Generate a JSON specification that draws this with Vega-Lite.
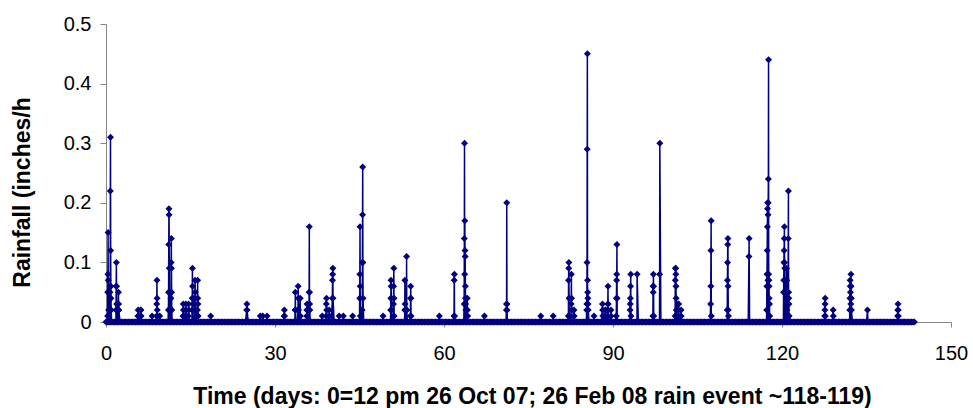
{
"$schema": "https://vega.github.io/schema/vega-lite/v6.json",
"width": 845, "height": 298,
"autosize": {"type": "none"},
"padding": {"left": 106, "top": 24, "right": 22, "bottom": 86},
"background": "white",
"config": {"view": {"stroke": null}, "font": "Liberation Sans"},
"data": {"values": [
{"day":0,"rain":0},{"day":0.25,"rain":0},{"day":0.5,"rain":0},{"day":0.75,"rain":0},
{"day":1,"rain":0},{"day":1.25,"rain":0},{"day":1.5,"rain":0},{"day":1.75,"rain":0},
{"day":2,"rain":0},{"day":2.25,"rain":0},{"day":2.5,"rain":0},{"day":2.75,"rain":0},
{"day":3,"rain":0},{"day":3.25,"rain":0},{"day":3.5,"rain":0},{"day":3.75,"rain":0},
{"day":4,"rain":0},{"day":4.25,"rain":0},{"day":4.5,"rain":0},{"day":4.75,"rain":0},
{"day":5,"rain":0},{"day":5.25,"rain":0},{"day":5.5,"rain":0},{"day":5.75,"rain":0},
{"day":6,"rain":0},{"day":6.25,"rain":0},{"day":6.5,"rain":0},{"day":6.75,"rain":0},
{"day":7,"rain":0},{"day":7.25,"rain":0},{"day":7.5,"rain":0},{"day":7.75,"rain":0},
{"day":8,"rain":0},{"day":8.25,"rain":0},{"day":8.5,"rain":0},{"day":8.75,"rain":0},
{"day":9,"rain":0},{"day":9.25,"rain":0},{"day":9.5,"rain":0},{"day":9.75,"rain":0},
{"day":10,"rain":0},{"day":10.25,"rain":0},{"day":10.5,"rain":0},{"day":10.75,"rain":0},
{"day":11,"rain":0},{"day":11.25,"rain":0},{"day":11.5,"rain":0},{"day":11.75,"rain":0},
{"day":12,"rain":0},{"day":12.25,"rain":0},{"day":12.5,"rain":0},{"day":12.75,"rain":0},
{"day":13,"rain":0},{"day":13.25,"rain":0},{"day":13.5,"rain":0},{"day":13.75,"rain":0},
{"day":14,"rain":0},{"day":14.25,"rain":0},{"day":14.5,"rain":0},{"day":14.75,"rain":0},
{"day":15,"rain":0},{"day":15.25,"rain":0},{"day":15.5,"rain":0},{"day":15.75,"rain":0},
{"day":16,"rain":0},{"day":16.25,"rain":0},{"day":16.5,"rain":0},{"day":16.75,"rain":0},
{"day":17,"rain":0},{"day":17.25,"rain":0},{"day":17.5,"rain":0},{"day":17.75,"rain":0},
{"day":18,"rain":0},{"day":18.25,"rain":0},{"day":18.5,"rain":0},{"day":18.75,"rain":0},
{"day":19,"rain":0},{"day":19.25,"rain":0},{"day":19.5,"rain":0},{"day":19.75,"rain":0},
{"day":20,"rain":0},{"day":20.25,"rain":0},{"day":20.5,"rain":0},{"day":20.75,"rain":0},
{"day":21,"rain":0},{"day":21.25,"rain":0},{"day":21.5,"rain":0},{"day":21.75,"rain":0},
{"day":22,"rain":0},{"day":22.25,"rain":0},{"day":22.5,"rain":0},{"day":22.75,"rain":0},
{"day":23,"rain":0},{"day":23.25,"rain":0},{"day":23.5,"rain":0},{"day":23.75,"rain":0},
{"day":24,"rain":0},{"day":24.25,"rain":0},{"day":24.5,"rain":0},{"day":24.75,"rain":0},
{"day":25,"rain":0},{"day":25.25,"rain":0},{"day":25.5,"rain":0},{"day":25.75,"rain":0},
{"day":26,"rain":0},{"day":26.25,"rain":0},{"day":26.5,"rain":0},{"day":26.75,"rain":0},
{"day":27,"rain":0},{"day":27.25,"rain":0},{"day":27.5,"rain":0},{"day":27.75,"rain":0},
{"day":28,"rain":0},{"day":28.25,"rain":0},{"day":28.5,"rain":0},{"day":28.75,"rain":0},
{"day":29,"rain":0},{"day":29.25,"rain":0},{"day":29.5,"rain":0},{"day":29.75,"rain":0},
{"day":30,"rain":0},{"day":30.25,"rain":0},{"day":30.5,"rain":0},{"day":30.75,"rain":0},
{"day":31,"rain":0},{"day":31.25,"rain":0},{"day":31.5,"rain":0},{"day":31.75,"rain":0},
{"day":32,"rain":0},{"day":32.25,"rain":0},{"day":32.5,"rain":0},{"day":32.75,"rain":0},
{"day":33,"rain":0},{"day":33.25,"rain":0},{"day":33.5,"rain":0},{"day":33.75,"rain":0},
{"day":34,"rain":0},{"day":34.25,"rain":0},{"day":34.5,"rain":0},{"day":34.75,"rain":0},
{"day":35,"rain":0},{"day":35.25,"rain":0},{"day":35.5,"rain":0},{"day":35.75,"rain":0},
{"day":36,"rain":0},{"day":36.25,"rain":0},{"day":36.5,"rain":0},{"day":36.75,"rain":0},
{"day":37,"rain":0},{"day":37.25,"rain":0},{"day":37.5,"rain":0},{"day":37.75,"rain":0},
{"day":38,"rain":0},{"day":38.25,"rain":0},{"day":38.5,"rain":0},{"day":38.75,"rain":0},
{"day":39,"rain":0},{"day":39.25,"rain":0},{"day":39.5,"rain":0},{"day":39.75,"rain":0},
{"day":40,"rain":0},{"day":40.25,"rain":0},{"day":40.5,"rain":0},{"day":40.75,"rain":0},
{"day":41,"rain":0},{"day":41.25,"rain":0},{"day":41.5,"rain":0},{"day":41.75,"rain":0},
{"day":42,"rain":0},{"day":42.25,"rain":0},{"day":42.5,"rain":0},{"day":42.75,"rain":0},
{"day":43,"rain":0},{"day":43.25,"rain":0},{"day":43.5,"rain":0},{"day":43.75,"rain":0},
{"day":44,"rain":0},{"day":44.25,"rain":0},{"day":44.5,"rain":0},{"day":44.75,"rain":0},
{"day":45,"rain":0},{"day":45.25,"rain":0},{"day":45.5,"rain":0},{"day":45.75,"rain":0},
{"day":46,"rain":0},{"day":46.25,"rain":0},{"day":46.5,"rain":0},{"day":46.75,"rain":0},
{"day":47,"rain":0},{"day":47.25,"rain":0},{"day":47.5,"rain":0},{"day":47.75,"rain":0},
{"day":48,"rain":0},{"day":48.25,"rain":0},{"day":48.5,"rain":0},{"day":48.75,"rain":0},
{"day":49,"rain":0},{"day":49.25,"rain":0},{"day":49.5,"rain":0},{"day":49.75,"rain":0},
{"day":50,"rain":0},{"day":50.25,"rain":0},{"day":50.5,"rain":0},{"day":50.75,"rain":0},
{"day":51,"rain":0},{"day":51.25,"rain":0},{"day":51.5,"rain":0},{"day":51.75,"rain":0},
{"day":52,"rain":0},{"day":52.25,"rain":0},{"day":52.5,"rain":0},{"day":52.75,"rain":0},
{"day":53,"rain":0},{"day":53.25,"rain":0},{"day":53.5,"rain":0},{"day":53.75,"rain":0},
{"day":54,"rain":0},{"day":54.25,"rain":0},{"day":54.5,"rain":0},{"day":54.75,"rain":0},
{"day":55,"rain":0},{"day":55.25,"rain":0},{"day":55.5,"rain":0},{"day":55.75,"rain":0},
{"day":56,"rain":0},{"day":56.25,"rain":0},{"day":56.5,"rain":0},{"day":56.75,"rain":0},
{"day":57,"rain":0},{"day":57.25,"rain":0},{"day":57.5,"rain":0},{"day":57.75,"rain":0},
{"day":58,"rain":0},{"day":58.25,"rain":0},{"day":58.5,"rain":0},{"day":58.75,"rain":0},
{"day":59,"rain":0},{"day":59.25,"rain":0},{"day":59.5,"rain":0},{"day":59.75,"rain":0},
{"day":60,"rain":0},{"day":60.25,"rain":0},{"day":60.5,"rain":0},{"day":60.75,"rain":0},
{"day":61,"rain":0},{"day":61.25,"rain":0},{"day":61.5,"rain":0},{"day":61.75,"rain":0},
{"day":62,"rain":0},{"day":62.25,"rain":0},{"day":62.5,"rain":0},{"day":62.75,"rain":0},
{"day":63,"rain":0},{"day":63.25,"rain":0},{"day":63.5,"rain":0},{"day":63.75,"rain":0},
{"day":64,"rain":0},{"day":64.25,"rain":0},{"day":64.5,"rain":0},{"day":64.75,"rain":0},
{"day":65,"rain":0},{"day":65.25,"rain":0},{"day":65.5,"rain":0},{"day":65.75,"rain":0},
{"day":66,"rain":0},{"day":66.25,"rain":0},{"day":66.5,"rain":0},{"day":66.75,"rain":0},
{"day":67,"rain":0},{"day":67.25,"rain":0},{"day":67.5,"rain":0},{"day":67.75,"rain":0},
{"day":68,"rain":0},{"day":68.25,"rain":0},{"day":68.5,"rain":0},{"day":68.75,"rain":0},
{"day":69,"rain":0},{"day":69.25,"rain":0},{"day":69.5,"rain":0},{"day":69.75,"rain":0},
{"day":70,"rain":0},{"day":70.25,"rain":0},{"day":70.5,"rain":0},{"day":70.75,"rain":0},
{"day":71,"rain":0},{"day":71.25,"rain":0},{"day":71.5,"rain":0},{"day":71.75,"rain":0},
{"day":72,"rain":0},{"day":72.25,"rain":0},{"day":72.5,"rain":0},{"day":72.75,"rain":0},
{"day":73,"rain":0},{"day":73.25,"rain":0},{"day":73.5,"rain":0},{"day":73.75,"rain":0},
{"day":74,"rain":0},{"day":74.25,"rain":0},{"day":74.5,"rain":0},{"day":74.75,"rain":0},
{"day":75,"rain":0},{"day":75.25,"rain":0},{"day":75.5,"rain":0},{"day":75.75,"rain":0},
{"day":76,"rain":0},{"day":76.25,"rain":0},{"day":76.5,"rain":0},{"day":76.75,"rain":0},
{"day":77,"rain":0},{"day":77.25,"rain":0},{"day":77.5,"rain":0},{"day":77.75,"rain":0},
{"day":78,"rain":0},{"day":78.25,"rain":0},{"day":78.5,"rain":0},{"day":78.75,"rain":0},
{"day":79,"rain":0},{"day":79.25,"rain":0},{"day":79.5,"rain":0},{"day":79.75,"rain":0},
{"day":80,"rain":0},{"day":80.25,"rain":0},{"day":80.5,"rain":0},{"day":80.75,"rain":0},
{"day":81,"rain":0},{"day":81.25,"rain":0},{"day":81.5,"rain":0},{"day":81.75,"rain":0},
{"day":82,"rain":0},{"day":82.25,"rain":0},{"day":82.5,"rain":0},{"day":82.75,"rain":0},
{"day":83,"rain":0},{"day":83.25,"rain":0},{"day":83.5,"rain":0},{"day":83.75,"rain":0},
{"day":84,"rain":0},{"day":84.25,"rain":0},{"day":84.5,"rain":0},{"day":84.75,"rain":0},
{"day":85,"rain":0},{"day":85.25,"rain":0},{"day":85.5,"rain":0},{"day":85.75,"rain":0},
{"day":86,"rain":0},{"day":86.25,"rain":0},{"day":86.5,"rain":0},{"day":86.75,"rain":0},
{"day":87,"rain":0},{"day":87.25,"rain":0},{"day":87.5,"rain":0},{"day":87.75,"rain":0},
{"day":88,"rain":0},{"day":88.25,"rain":0},{"day":88.5,"rain":0},{"day":88.75,"rain":0},
{"day":89,"rain":0},{"day":89.25,"rain":0},{"day":89.5,"rain":0},{"day":89.75,"rain":0},
{"day":90,"rain":0},{"day":90.25,"rain":0},{"day":90.5,"rain":0},{"day":90.75,"rain":0},
{"day":91,"rain":0},{"day":91.25,"rain":0},{"day":91.5,"rain":0},{"day":91.75,"rain":0},
{"day":92,"rain":0},{"day":92.25,"rain":0},{"day":92.5,"rain":0},{"day":92.75,"rain":0},
{"day":93,"rain":0},{"day":93.25,"rain":0},{"day":93.5,"rain":0},{"day":93.75,"rain":0},
{"day":94,"rain":0},{"day":94.25,"rain":0},{"day":94.5,"rain":0},{"day":94.75,"rain":0},
{"day":95,"rain":0},{"day":95.25,"rain":0},{"day":95.5,"rain":0},{"day":95.75,"rain":0},
{"day":96,"rain":0},{"day":96.25,"rain":0},{"day":96.5,"rain":0},{"day":96.75,"rain":0},
{"day":97,"rain":0},{"day":97.25,"rain":0},{"day":97.5,"rain":0},{"day":97.75,"rain":0},
{"day":98,"rain":0},{"day":98.25,"rain":0},{"day":98.5,"rain":0},{"day":98.75,"rain":0},
{"day":99,"rain":0},{"day":99.25,"rain":0},{"day":99.5,"rain":0},{"day":99.75,"rain":0},
{"day":100,"rain":0},{"day":100.25,"rain":0},{"day":100.5,"rain":0},{"day":100.75,"rain":0},
{"day":101,"rain":0},{"day":101.25,"rain":0},{"day":101.5,"rain":0},{"day":101.75,"rain":0},
{"day":102,"rain":0},{"day":102.25,"rain":0},{"day":102.5,"rain":0},{"day":102.75,"rain":0},
{"day":103,"rain":0},{"day":103.25,"rain":0},{"day":103.5,"rain":0},{"day":103.75,"rain":0},
{"day":104,"rain":0},{"day":104.25,"rain":0},{"day":104.5,"rain":0},{"day":104.75,"rain":0},
{"day":105,"rain":0},{"day":105.25,"rain":0},{"day":105.5,"rain":0},{"day":105.75,"rain":0},
{"day":106,"rain":0},{"day":106.25,"rain":0},{"day":106.5,"rain":0},{"day":106.75,"rain":0},
{"day":107,"rain":0},{"day":107.25,"rain":0},{"day":107.5,"rain":0},{"day":107.75,"rain":0},
{"day":108,"rain":0},{"day":108.25,"rain":0},{"day":108.5,"rain":0},{"day":108.75,"rain":0},
{"day":109,"rain":0},{"day":109.25,"rain":0},{"day":109.5,"rain":0},{"day":109.75,"rain":0},
{"day":110,"rain":0},{"day":110.25,"rain":0},{"day":110.5,"rain":0},{"day":110.75,"rain":0},
{"day":111,"rain":0},{"day":111.25,"rain":0},{"day":111.5,"rain":0},{"day":111.75,"rain":0},
{"day":112,"rain":0},{"day":112.25,"rain":0},{"day":112.5,"rain":0},{"day":112.75,"rain":0},
{"day":113,"rain":0},{"day":113.25,"rain":0},{"day":113.5,"rain":0},{"day":113.75,"rain":0},
{"day":114,"rain":0},{"day":114.25,"rain":0},{"day":114.5,"rain":0},{"day":114.75,"rain":0},
{"day":115,"rain":0},{"day":115.25,"rain":0},{"day":115.5,"rain":0},{"day":115.75,"rain":0},
{"day":116,"rain":0},{"day":116.25,"rain":0},{"day":116.5,"rain":0},{"day":116.75,"rain":0},
{"day":117,"rain":0},{"day":117.25,"rain":0},{"day":117.5,"rain":0},{"day":117.75,"rain":0},
{"day":118,"rain":0},{"day":118.25,"rain":0},{"day":118.5,"rain":0},{"day":118.75,"rain":0},
{"day":119,"rain":0},{"day":119.25,"rain":0},{"day":119.5,"rain":0},{"day":119.75,"rain":0},
{"day":120,"rain":0},{"day":120.25,"rain":0},{"day":120.5,"rain":0},{"day":120.75,"rain":0},
{"day":121,"rain":0},{"day":121.25,"rain":0},{"day":121.5,"rain":0},{"day":121.75,"rain":0},
{"day":122,"rain":0},{"day":122.25,"rain":0},{"day":122.5,"rain":0},{"day":122.75,"rain":0},
{"day":123,"rain":0},{"day":123.25,"rain":0},{"day":123.5,"rain":0},{"day":123.75,"rain":0},
{"day":124,"rain":0},{"day":124.25,"rain":0},{"day":124.5,"rain":0},{"day":124.75,"rain":0},
{"day":125,"rain":0},{"day":125.25,"rain":0},{"day":125.5,"rain":0},{"day":125.75,"rain":0},
{"day":126,"rain":0},{"day":126.25,"rain":0},{"day":126.5,"rain":0},{"day":126.75,"rain":0},
{"day":127,"rain":0},{"day":127.25,"rain":0},{"day":127.5,"rain":0},{"day":127.75,"rain":0},
{"day":128,"rain":0},{"day":128.25,"rain":0},{"day":128.5,"rain":0},{"day":128.75,"rain":0},
{"day":129,"rain":0},{"day":129.25,"rain":0},{"day":129.5,"rain":0},{"day":129.75,"rain":0},
{"day":130,"rain":0},{"day":130.25,"rain":0},{"day":130.5,"rain":0},{"day":130.75,"rain":0},
{"day":131,"rain":0},{"day":131.25,"rain":0},{"day":131.5,"rain":0},{"day":131.75,"rain":0},
{"day":132,"rain":0},{"day":132.25,"rain":0},{"day":132.5,"rain":0},{"day":132.75,"rain":0},
{"day":133,"rain":0},{"day":133.25,"rain":0},{"day":133.5,"rain":0},{"day":133.75,"rain":0},
{"day":134,"rain":0},{"day":134.25,"rain":0},{"day":134.5,"rain":0},{"day":134.75,"rain":0},
{"day":135,"rain":0},{"day":135.25,"rain":0},{"day":135.5,"rain":0},{"day":135.75,"rain":0},
{"day":136,"rain":0},{"day":136.25,"rain":0},{"day":136.5,"rain":0},{"day":136.75,"rain":0},
{"day":137,"rain":0},{"day":137.25,"rain":0},{"day":137.5,"rain":0},{"day":137.75,"rain":0},
{"day":138,"rain":0},{"day":138.25,"rain":0},{"day":138.5,"rain":0},{"day":138.75,"rain":0},
{"day":139,"rain":0},{"day":139.25,"rain":0},{"day":139.5,"rain":0},{"day":139.75,"rain":0},
{"day":140,"rain":0},{"day":140.25,"rain":0},{"day":140.5,"rain":0},{"day":140.75,"rain":0},
{"day":141,"rain":0},{"day":141.25,"rain":0},{"day":141.5,"rain":0},{"day":141.75,"rain":0},
{"day":142,"rain":0},{"day":142.25,"rain":0},{"day":142.5,"rain":0},{"day":142.75,"rain":0},
{"day":143,"rain":0},{"day":143.25,"rain":0},{"day":143.5,"rain":0},
{"day":0.28,"rain":0.01},{"day":0.31,"rain":0.05},{"day":0.34,"rain":0.08},{"day":0.37,"rain":0.15},{"day":0.40,"rain":0.07},{"day":0.43,"rain":0.05},{"day":0.46,"rain":0.02},
{"day":0.68,"rain":0.02},{"day":0.71,"rain":0.05},{"day":0.74,"rain":0.06},{"day":0.77,"rain":0.22},{"day":0.80,"rain":0.31},{"day":0.83,"rain":0.12},{"day":0.86,"rain":0.06},{"day":0.89,"rain":0.04},{"day":0.92,"rain":0.02},
{"day":1.78,"rain":0.02},{"day":1.81,"rain":0.06},{"day":1.84,"rain":0.1},{"day":1.87,"rain":0.06},{"day":1.90,"rain":0.03},
{"day":2.18,"rain":0.02},{"day":2.21,"rain":0.05},{"day":2.24,"rain":0.03},{"day":2.27,"rain":0.02},
{"day":5.68,"rain":0.01},{"day":5.71,"rain":0.02},{"day":5.74,"rain":0.01},
{"day":6.13,"rain":0.02},{"day":6.16,"rain":0.01},{"day":6.19,"rain":0.02},{"day":6.22,"rain":0.01},
{"day":8.18,"rain":0.01},
{"day":8.98,"rain":0.01},{"day":9.01,"rain":0.03},{"day":9.04,"rain":0.07},{"day":9.07,"rain":0.04},{"day":9.10,"rain":0.02},{"day":9.13,"rain":0.01},
{"day":9.53,"rain":0.01},
{"day":11.08,"rain":0.02},{"day":11.11,"rain":0.05},{"day":11.14,"rain":0.13},{"day":11.17,"rain":0.19},{"day":11.20,"rain":0.18},{"day":11.23,"rain":0.09},{"day":11.26,"rain":0.05},{"day":11.29,"rain":0.02},
{"day":11.53,"rain":0.04},{"day":11.56,"rain":0.1},{"day":11.59,"rain":0.14},{"day":11.62,"rain":0.09},{"day":11.65,"rain":0.05},{"day":11.68,"rain":0.02},
{"day":13.68,"rain":0.01},{"day":13.71,"rain":0.03},{"day":13.74,"rain":0.02},{"day":13.77,"rain":0.01},
{"day":14.13,"rain":0.02},{"day":14.16,"rain":0.03},{"day":14.19,"rain":0.01},{"day":14.22,"rain":0.02},
{"day":14.63,"rain":0.01},{"day":14.66,"rain":0.03},{"day":14.69,"rain":0.02},
{"day":15.28,"rain":0.02},{"day":15.31,"rain":0.04},{"day":15.34,"rain":0.09},{"day":15.37,"rain":0.06},{"day":15.40,"rain":0.04},{"day":15.43,"rain":0.03},
{"day":15.78,"rain":0.03},{"day":15.81,"rain":0.07},{"day":15.84,"rain":0.05},{"day":15.87,"rain":0.04},{"day":15.90,"rain":0.02},
{"day":16.23,"rain":0.02},{"day":16.26,"rain":0.07},{"day":16.29,"rain":0.04},{"day":16.32,"rain":0.03},{"day":16.35,"rain":0.01},
{"day":18.58,"rain":0.01},
{"day":24.98,"rain":0.02},{"day":25.01,"rain":0.03},{"day":25.04,"rain":0.02},
{"day":27.38,"rain":0.01},{"day":27.83,"rain":0.01},{"day":28.58,"rain":0.01},
{"day":31.63,"rain":0.01},{"day":31.66,"rain":0.02},{"day":31.69,"rain":0.01},
{"day":33.58,"rain":0.02},{"day":33.61,"rain":0.05},{"day":33.64,"rain":0.02},
{"day":34.08,"rain":0.02},{"day":34.11,"rain":0.06},{"day":34.14,"rain":0.04},{"day":34.17,"rain":0.02},
{"day":34.48,"rain":0.04},{"day":34.51,"rain":0.01},
{"day":35.63,"rain":0.01},{"day":35.66,"rain":0.02},{"day":35.69,"rain":0.03},{"day":35.72,"rain":0.02},
{"day":36.03,"rain":0.02},{"day":36.06,"rain":0.05},{"day":36.09,"rain":0.16},{"day":36.12,"rain":0.05},{"day":36.15,"rain":0.03},{"day":36.18,"rain":0.02},
{"day":38.38,"rain":0.01},
{"day":39.08,"rain":0.01},{"day":39.11,"rain":0.03},{"day":39.14,"rain":0.04},{"day":39.17,"rain":0.02},
{"day":39.63,"rain":0.02},{"day":39.66,"rain":0.01},
{"day":40.18,"rain":0.04},{"day":40.21,"rain":0.07},{"day":40.24,"rain":0.08},{"day":40.27,"rain":0.09},{"day":40.30,"rain":0.04},
{"day":41.38,"rain":0.01},{"day":42.13,"rain":0.01},{"day":43.78,"rain":0.01},
{"day":45.03,"rain":0.04},{"day":45.06,"rain":0.08},{"day":45.09,"rain":0.16},{"day":45.12,"rain":0.06},{"day":45.15,"rain":0.01},
{"day":45.48,"rain":0.02},{"day":45.51,"rain":0.1},{"day":45.54,"rain":0.18},{"day":45.57,"rain":0.26},{"day":45.60,"rain":0.1},{"day":45.63,"rain":0.04},
{"day":49.18,"rain":0.01},
{"day":50.53,"rain":0.02},{"day":50.56,"rain":0.04},{"day":50.59,"rain":0.07},{"day":50.62,"rain":0.06},{"day":50.65,"rain":0.04},{"day":50.68,"rain":0.02},
{"day":51.03,"rain":0.03},{"day":51.06,"rain":0.06},{"day":51.09,"rain":0.09},{"day":51.12,"rain":0.04},{"day":51.15,"rain":0.01},
{"day":53.03,"rain":0.02},{"day":53.06,"rain":0.07},{"day":53.09,"rain":0.03},
{"day":53.33,"rain":0.02},{"day":53.36,"rain":0.11},{"day":53.39,"rain":0.02},
{"day":54.03,"rain":0.01},{"day":54.06,"rain":0.04},{"day":54.09,"rain":0.06},{"day":54.12,"rain":0.04},{"day":54.15,"rain":0.01},
{"day":59.18,"rain":0.01},
{"day":61.78,"rain":0.01},{"day":61.81,"rain":0.07},{"day":61.84,"rain":0.08},{"day":61.87,"rain":0.01},
{"day":63.58,"rain":0.03},{"day":63.61,"rain":0.14},{"day":63.64,"rain":0.3},{"day":63.67,"rain":0.08},{"day":63.70,"rain":0.17},{"day":63.73,"rain":0.12},{"day":63.76,"rain":0.11},{"day":63.79,"rain":0.06},{"day":63.82,"rain":0.04},{"day":63.85,"rain":0.03},{"day":63.88,"rain":0.02},
{"day":64.13,"rain":0.04},{"day":64.16,"rain":0.02},{"day":64.19,"rain":0.01},
{"day":67.18,"rain":0.01},
{"day":71.08,"rain":0.02},{"day":71.11,"rain":0.03},{"day":71.14,"rain":0.2},{"day":71.17,"rain":0.03},{"day":71.20,"rain":0.02},
{"day":77.18,"rain":0.01},{"day":79.38,"rain":0.01},
{"day":82.08,"rain":0.01},{"day":82.11,"rain":0.07},{"day":82.14,"rain":0.09},{"day":82.17,"rain":0.1},{"day":82.20,"rain":0.04},{"day":82.23,"rain":0.01},
{"day":82.58,"rain":0.03},{"day":82.61,"rain":0.08},{"day":82.64,"rain":0.04},{"day":82.67,"rain":0.02},
{"day":83.08,"rain":0.02},{"day":83.11,"rain":0.01},
{"day":85.33,"rain":0.02},{"day":85.36,"rain":0.03},{"day":85.39,"rain":0.1},{"day":85.42,"rain":0.29},{"day":85.45,"rain":0.45},{"day":85.48,"rain":0.07},{"day":85.51,"rain":0.05},{"day":85.54,"rain":0.04},{"day":85.57,"rain":0.03},{"day":85.60,"rain":0.02},
{"day":86.63,"rain":0.01},
{"day":88.13,"rain":0.03},{"day":88.16,"rain":0.02},{"day":88.19,"rain":0.01},
{"day":88.63,"rain":0.02},{"day":88.66,"rain":0.01},{"day":88.69,"rain":0.02},
{"day":89.08,"rain":0.03},{"day":89.11,"rain":0.06},{"day":89.14,"rain":0.03},{"day":89.17,"rain":0.02},
{"day":89.63,"rain":0.02},{"day":89.66,"rain":0.01},
{"day":90.58,"rain":0.01},{"day":90.61,"rain":0.04},{"day":90.64,"rain":0.07},{"day":90.67,"rain":0.08},{"day":90.70,"rain":0.13},{"day":90.73,"rain":0.04},
{"day":93.03,"rain":0.02},{"day":93.06,"rain":0.03},{"day":93.09,"rain":0.04},{"day":93.12,"rain":0.06},{"day":93.15,"rain":0.08},{"day":93.18,"rain":0.01},
{"day":94.28,"rain":0.08},
{"day":97.08,"rain":0.01},{"day":97.11,"rain":0.06},{"day":97.14,"rain":0.05},{"day":97.17,"rain":0.08},{"day":97.20,"rain":0.06},{"day":97.23,"rain":0.01},
{"day":98.28,"rain":0.08},{"day":98.31,"rain":0.3},
{"day":101.03,"rain":0.01},{"day":101.06,"rain":0.07},{"day":101.09,"rain":0.09},{"day":101.12,"rain":0.09},{"day":101.15,"rain":0.08},{"day":101.18,"rain":0.06},{"day":101.21,"rain":0.04},{"day":101.24,"rain":0.02},
{"day":101.58,"rain":0.03},{"day":101.61,"rain":0.02},{"day":101.64,"rain":0.03},{"day":101.67,"rain":0.01},
{"day":102.08,"rain":0.02},{"day":102.11,"rain":0.01},
{"day":107.33,"rain":0.03},{"day":107.36,"rain":0.06},{"day":107.39,"rain":0.12},{"day":107.42,"rain":0.17},{"day":107.45,"rain":0.01},
{"day":110.28,"rain":0.02},{"day":110.31,"rain":0.07},{"day":110.34,"rain":0.1},{"day":110.37,"rain":0.13},{"day":110.40,"rain":0.14},{"day":110.43,"rain":0.06},{"day":110.46,"rain":0.02},{"day":110.49,"rain":0.01},
{"day":114.13,"rain":0.11},{"day":114.16,"rain":0.14},
{"day":117.28,"rain":0.02},{"day":117.31,"rain":0.06},{"day":117.34,"rain":0.08},{"day":117.37,"rain":0.12},{"day":117.40,"rain":0.16},{"day":117.43,"rain":0.19},{"day":117.46,"rain":0.2},{"day":117.49,"rain":0.07},{"day":117.52,"rain":0.18},{"day":117.55,"rain":0.2},{"day":117.58,"rain":0.24},{"day":117.61,"rain":0.44},{"day":117.64,"rain":0.08},{"day":117.67,"rain":0.07},{"day":117.70,"rain":0.06},{"day":117.73,"rain":0.04},{"day":117.78,"rain":0.03},{"day":117.81,"rain":0.01},
{"day":120.28,"rain":0.05},{"day":120.31,"rain":0.07},{"day":120.34,"rain":0.1},{"day":120.37,"rain":0.12},{"day":120.40,"rain":0.14},{"day":120.43,"rain":0.16},{"day":120.46,"rain":0.1},{"day":120.49,"rain":0.09},{"day":120.52,"rain":0.07},
{"day":120.78,"rain":0.05},{"day":120.81,"rain":0.09},{"day":120.84,"rain":0.07},{"day":120.87,"rain":0.02},
{"day":121.08,"rain":0.05},{"day":121.11,"rain":0.14},{"day":121.14,"rain":0.22},{"day":121.17,"rain":0.05},{"day":121.20,"rain":0.04},{"day":121.23,"rain":0.03},{"day":121.28,"rain":0.01},
{"day":127.58,"rain":0.01},{"day":127.61,"rain":0.02},{"day":127.64,"rain":0.03},{"day":127.67,"rain":0.04},{"day":127.70,"rain":0.01},
{"day":129.08,"rain":0.02},{"day":129.11,"rain":0.01},
{"day":132.03,"rain":0.02},{"day":132.06,"rain":0.04},{"day":132.09,"rain":0.07},{"day":132.12,"rain":0.06},{"day":132.15,"rain":0.05},{"day":132.18,"rain":0.04},{"day":132.21,"rain":0.03},{"day":132.24,"rain":0.08},{"day":132.27,"rain":0.06},{"day":132.30,"rain":0.04},{"day":132.33,"rain":0.02},
{"day":135.18,"rain":0.02},
{"day":140.53,"rain":0.01},{"day":140.56,"rain":0.02},{"day":140.59,"rain":0.03},{"day":140.62,"rain":0.02},{"day":140.65,"rain":0.01}
]},
"mark": {"type": "line", "color": "#000080", "strokeWidth": 1.5, "point": {"shape": "diamond", "filled": true, "size": 49, "color": "#000080"}},
"encoding": {
"x": {"field": "day", "type": "quantitative", "scale": {"domain": [0, 150], "nice": false},
 "axis": {"values": [0, 30, 60, 90, 120, 150], "grid": false, "domainColor": "#868686", "tickColor": "#868686", "tickSize": 5,
  "labelFont": "Liberation Sans", "labelFontSize": 20, "labelColor": "#000000", "labelPadding": 16, "labelFlush": false,
  "title": "Time (days: 0=12 pm 26 Oct 07; 26 Feb 08 rain event ~118-119)", "titleFont": "Liberation Sans", "titleFontSize": 23, "titleFontWeight": "bold", "titleColor": "#000000",
  "titleBaseline": "alphabetic", "titleX": 426, "titleY": 81}},
"y": {"field": "rain", "type": "quantitative", "scale": {"domain": [0, 0.5], "nice": false},
 "axis": {"values": [0, 0.1, 0.2, 0.3, 0.4, 0.5], "format": ".1~f", "grid": false, "domainColor": "#868686", "tickColor": "#868686", "tickSize": 6,
  "labelFont": "Liberation Sans", "labelFontSize": 20, "labelColor": "#000000", "labelPadding": 9, "labelFlush": false,
  "title": "Rainfall (inches/h", "titleFont": "Liberation Sans", "titleFontSize": 23, "titleFontWeight": "bold", "titleColor": "#000000",
  "titleBaseline": "middle", "titleAlign": "center", "titleX": -84, "titleY": 168}}
}
}
